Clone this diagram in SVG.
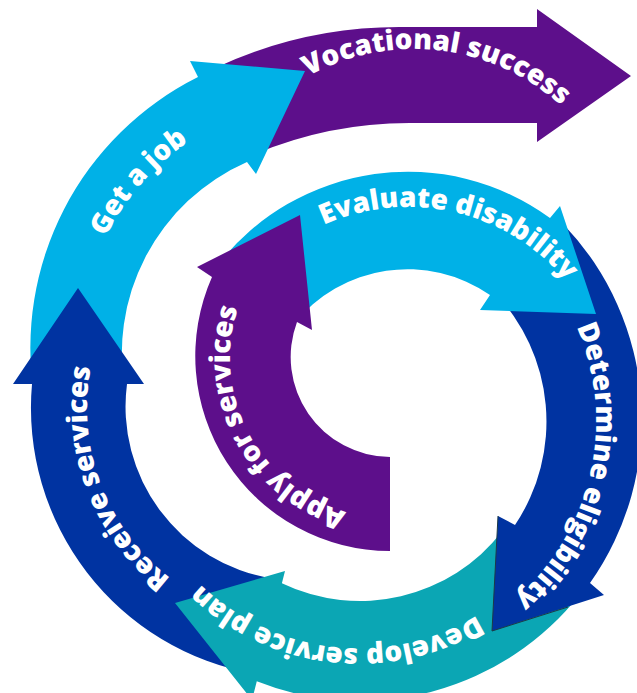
<svg xmlns="http://www.w3.org/2000/svg" width="637" height="693" viewBox="0 0 637 693">
<style>
.t{font-family:"Open Sans","Liberation Sans",sans-serif;font-weight:800;font-size:28px;fill:#ffffff;text-anchor:middle}
.purple{fill:#5d0f8b}
.lblue{fill:#00b1e7}
.dblue{fill:#0033a1}
.teal{fill:#0ba6b4}
</style>
<defs>
<path id="p-voc" d="M238.2,137.4 A219,219 0 0 1 615,181"/>
<path id="p-job" d="M92.8,432.4 A253,253 0 0 1 380.3,101.7"/>
<path id="p-rec" d="M267.3,620.2 A215,215 0 0 1 135.6,271.8"/>
<path id="p-dev" d="M542,556 A228,228 0 0 1 150,512"/>
<path id="p-det" d="M520.2,247.7 A236,236 0 0 1 430,646.4"/>
<path id="p-eva" d="M257.3,272.5 A206,206 0 0 1 605,352.8"/>
<path id="p-app" d="M384.4,517.9 A160,160 0 0 1 254.3,273.2"/>
</defs>
<g id="connectors"></g>
<g id="vocational-success">
<path class="purple" d="M215,68 A434,434 0 0 1 400,27 L537,27 L537,9 L631,76 L537,142 L537,123 L410,123 A400,400 0 0 0 255,154 Z"/>
<text class="t"><textPath href="#p-voc" startOffset="50%">Vocational success</textPath></text>
</g>
<g id="get-a-job">
<path class="lblue" d="M34,395 A303,303 0 0 1 198,77 L190,61 L305,71 L256,174 L247,162 A209,209 0 0 0 126,395 Z"/>
<text class="t"><textPath href="#p-job" startOffset="50%">Get a job</textPath></text>
</g>
<g id="receive-services">
<path class="dblue" d="M255.1,673.9 A270,270 0 0 1 32,384 L13,384 L78,288 L144,384 L127,384 A174,174 0 0 0 272,578.4 Z"/>
<text class="t"><textPath href="#p-rec" startOffset="50%">Receive services</textPath></text>
</g>
<g id="develop-service-plan">
<path class="teal" d="M580.6,593.4 A280,280 0 0 1 256.8,681.3 L252,700 L175,603 L285,571 L281.9,583.2 A180,180 0 0 0 501.8,531.8 Z"/>
<text class="t"><textPath href="#p-dev" startOffset="50%">Develop service plan</textPath></text>
</g>
<g id="determine-eligibility">
<path class="dblue" d="M563.6,224.4 A283,283 0 0 1 590,583 L604,595 L492,631 L498,516 L515,525 A186,186 0 0 0 493.8,291.8 Z"/>
<polyline points="498,516 492,631 568,607" fill="none" stroke="#1d3a46" stroke-width="1"/>
<text class="t"><textPath href="#p-det" startOffset="50%">Determine eligibility</textPath></text>
</g>
<g id="evaluate-disability">
<path class="lblue" d="M218,264.6 A241,241 0 0 1 550,218 L560,206 L596,314 L480,310 L490,295 A145,145 0 0 0 294,324 Z"/>
<text class="t"><textPath href="#p-eva" startOffset="50%">Evaluate disability</textPath></text>
</g>
<g id="apply-for-services">
<path class="purple" d="M390,551 A195,195 0 0 1 212,277 L197,267 L300,215 L312,330 L297,322 A100,100 0 0 0 390,457 Z"/>
<text class="t"><textPath href="#p-app" startOffset="50%">Apply for services</textPath></text>
</g>
</svg>
